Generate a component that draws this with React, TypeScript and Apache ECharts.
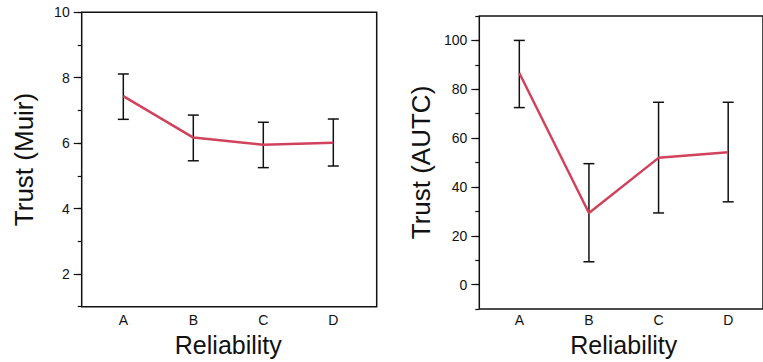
import React, { useEffect, useRef } from "react";
import * as echarts from "echarts";

const categories = ["A", "B", "C", "D"];
const muirMean = [7.43, 6.16, 5.94, 6.0];
const muirLow = [6.72, 5.45, 5.24, 5.29];
const muirHigh = [8.11, 6.85, 6.63, 6.73];
const autcMean = [86.4, 28.5, 51.3, 53.6];
const autcLow = [72.1, 8.3, 28.5, 33.1];
const autcHigh = [99.9, 48.9, 74.3, 74.3];
const muirTicks = [2, 4, 6, 8, 10];
const autcTicks = [0, 20, 40, 60, 80, 100];

const FONT = "'Liberation Sans', Arial, Helvetica, sans-serif";
const RED = "#d1425c";
const INK = "#111";

function errorRenderer(params: any, api: any) {
  const x = api.value(0);
  const lo = api.coord([x, api.value(1)]);
  const hi = api.coord([x, api.value(2)]);
  const w = 5.5;
  const style = { stroke: INK, lineWidth: 1.5 };
  return {
    type: "group",
    children: [
      { type: "line", shape: { x1: lo[0], y1: lo[1], x2: hi[0], y2: hi[1] }, style },
      { type: "line", shape: { x1: lo[0] - w, y1: lo[1], x2: lo[0] + w, y2: lo[1] }, style },
      { type: "line", shape: { x1: hi[0] - w, y1: hi[1], x2: hi[0] + w, y2: hi[1] }, style },
    ],
  };
}

function majorY(grid: number, min: number, max: number, ticks: number[], name: string) {
  return {
    type: "value",
    gridIndex: grid,
    position: "left",
    offset: 0,
    min,
    max,
    axisLine: { show: false },
    splitLine: { show: false },
    axisTick: { show: true, length: 8, customValues: ticks, lineStyle: { color: INK, width: 1.2 } },
    axisLabel: { show: true, customValues: ticks, margin: 12, fontSize: 14, color: "#111", fontFamily: FONT },
    name,
    nameLocation: "middle",
    nameGap: 45,
    nameTextStyle: { fontSize: 26, color: "#111", fontFamily: FONT },
  };
}

function minorY(grid: number, min: number, max: number, interval: number) {
  return {
    type: "value",
    gridIndex: grid,
    position: "left",
    offset: 0,
    min,
    max,
    interval,
    axisLine: { show: false },
    splitLine: { show: false },
    axisTick: { show: true, length: 4, lineStyle: { color: INK, width: 1.2 } },
    axisLabel: { show: false },
  };
}

function hiddenY(grid: number, min: number, max: number) {
  return { type: "value", gridIndex: grid, min, max, show: false, splitLine: { show: false } };
}

function catX(grid: number) {
  return {
    type: "category",
    gridIndex: grid,
    data: categories,
    boundaryGap: true,
    axisLine: { show: false },
    axisTick: { show: false },
    axisLabel: { margin: 7, fontSize: 14, color: "#111", fontFamily: FONT },
    name: "Reliability",
    nameLocation: "middle",
    nameGap: 26,
    nameTextStyle: { fontSize: 25, color: "#111", fontFamily: FONT },
  };
}

export default function App() {
  const ref = useRef<HTMLDivElement>(null);
  useEffect(() => {
    if (!ref.current) return;
    const chart = echarts.init(ref.current, undefined, { renderer: "svg" });
    chart.setOption({
      animation: false,
      backgroundColor: "#fff",
      grid: [
        { left: 81.7, top: 12.3, width: 295, height: 294.4, show: true, borderColor: INK, borderWidth: 1.5, containLabel: false },
        { left: 88.3, top: 12.3, width: 280, height: 294.4, containLabel: false },
        { left: 479.3, top: 16, width: 330, height: 293, show: true, borderColor: INK, borderWidth: 1.5, containLabel: false },
        { left: 484.5, top: 16, width: 278.8, height: 293, containLabel: false },
      ],
      xAxis: [
        { type: "value", gridIndex: 0, show: false, min: 0, max: 1 },
        catX(1),
        { type: "value", gridIndex: 2, show: false, min: 0, max: 1 },
        catX(3),
      ],
      yAxis: [
        majorY(0, 1, 10, muirTicks, "Trust (Muir)"),
        minorY(0, 1, 10, 1),
        hiddenY(1, 1, 10),
        majorY(2, -10, 110, autcTicks, "Trust (AUTC)"),
        minorY(2, -10, 110, 10),
        hiddenY(3, -10, 110),
      ],
      series: [
        {
          type: "custom",
          xAxisIndex: 1,
          yAxisIndex: 2,
          renderItem: errorRenderer,
          data: categories.map((_, i) => [i, muirLow[i], muirHigh[i]]),
          z: 2,
        },
        {
          type: "line",
          xAxisIndex: 1,
          yAxisIndex: 2,
          data: muirMean,
          symbol: "none",
          lineStyle: { color: RED, width: 2.5 },
          z: 3,
        },
        {
          type: "custom",
          xAxisIndex: 3,
          yAxisIndex: 5,
          renderItem: errorRenderer,
          data: categories.map((_, i) => [i, autcLow[i], autcHigh[i]]),
          z: 2,
        },
        {
          type: "line",
          xAxisIndex: 3,
          yAxisIndex: 5,
          data: autcMean,
          symbol: "none",
          lineStyle: { color: RED, width: 2.5 },
          z: 3,
        },
      ],
    });
    return () => chart.dispose();
  }, []);
  return (
    <div
      ref={ref}
      style={{ position: "absolute", left: 0, top: 0, width: 763, height: 362, overflow: "hidden" }}
    />
  );
}
